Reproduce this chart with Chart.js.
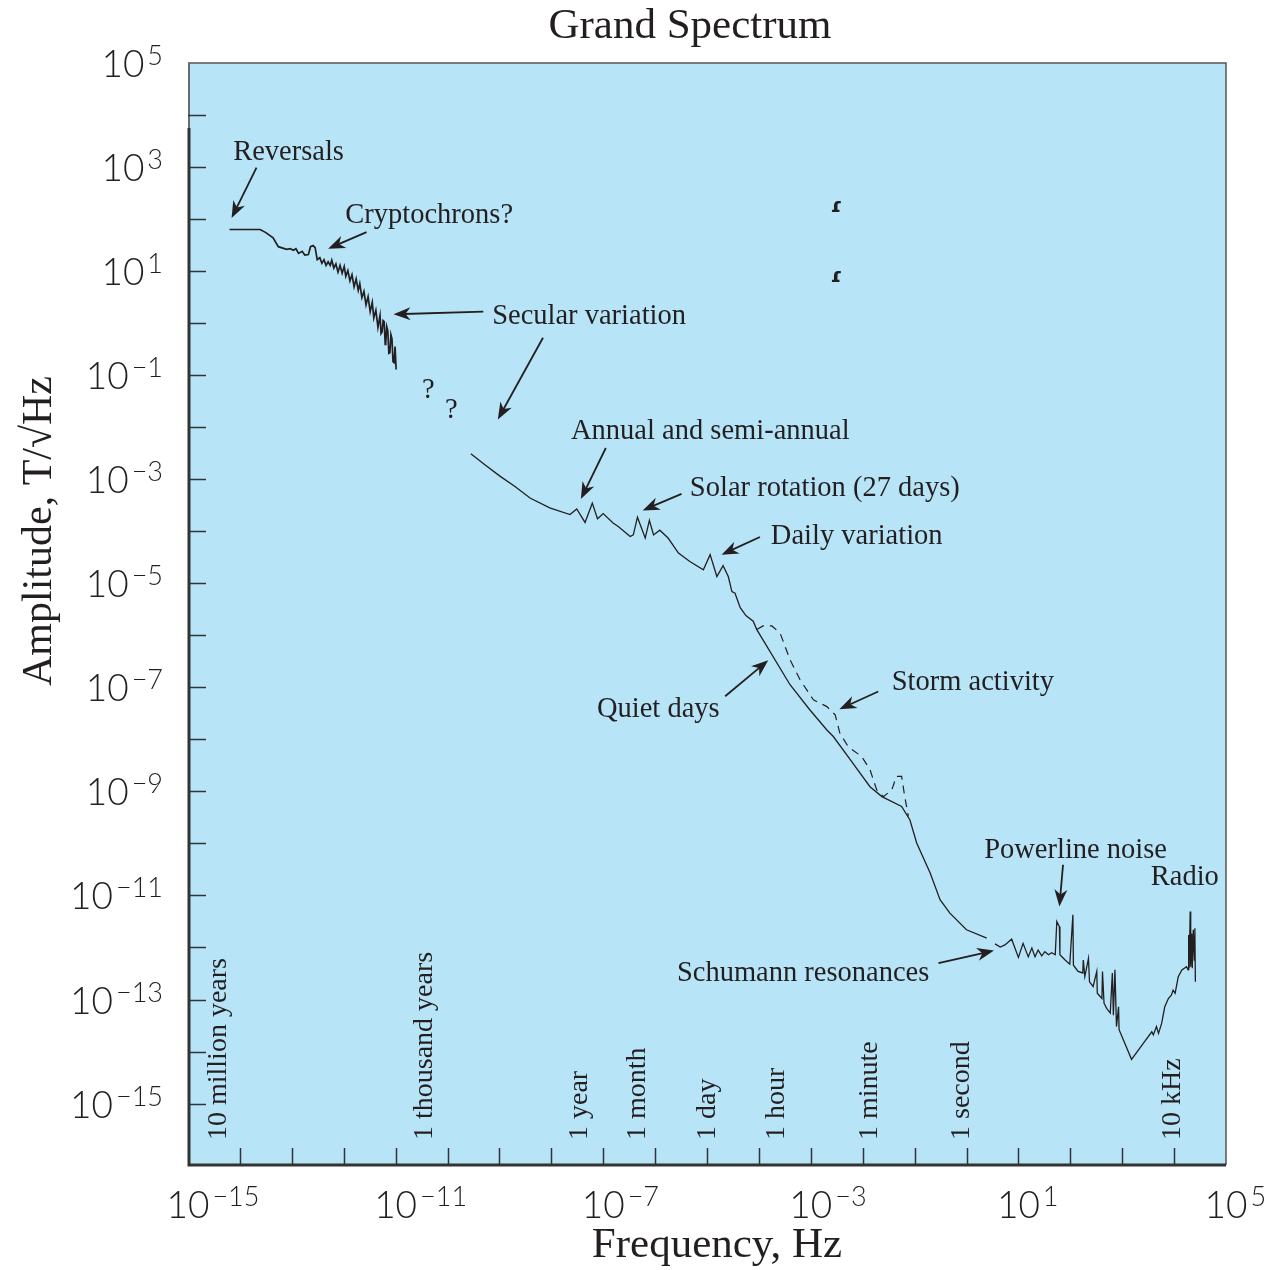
<!DOCTYPE html>
<html>
<head>
<meta charset="utf-8">
<script src="https://cdn.jsdelivr.net/npm/chart.js@4.4.0/dist/chart.umd.min.js"></script>
<style>
  html, body { margin: 0; padding: 0; background: #ffffff; }
  canvas { display: block; }
</style>
</head>
<body>
<canvas id="spectrumChart" width="1270" height="1270"></canvas>
<script>
// All series values are log10(frequency / Hz) and log10(amplitude / T/sqrt(Hz)).

// reversals, cryptochrons and secular variation
const secularFreq = [-14.20, -13.61, -13.50, -13.36, -13.26, -13.10, -13.03, -12.97, -12.92, -12.87, -12.80, -12.75, -12.68, -12.64, -12.59, -12.55, -12.51,
    -12.46, -12.42, -12.38, -12.34, -12.30, -12.26, -12.23, -12.19, -12.15, -12.11, -12.07, -12.03, -11.99, -11.96, -11.92, -11.88, -11.84, -11.80,
    -11.76, -11.72, -11.69, -11.65, -11.61, -11.57, -11.53, -11.49, -11.45, -11.42, -11.38, -11.34, -11.30, -11.28, -11.26, -11.24, -11.22, -11.20,
    -11.19, -11.17, -11.15, -11.13, -11.11, -11.09, -11.07, -11.05, -11.03, -11.01, -10.99];
const secularAmp = [1.80, 1.80, 1.74, 1.64, 1.47, 1.42, 1.43, 1.40, 1.43, 1.34, 1.38, 1.31, 1.32, 1.47, 1.49, 1.45, 1.22,
    1.26, 1.15, 1.22, 1.11, 1.18, 1.11, 1.21, 1.06, 1.14, 0.98, 1.11, 0.96, 1.09, 0.90, 1.01, 0.81, 0.93, 0.70,
    0.85, 0.63, 0.76, 0.49, 0.61, 0.35, 0.51, 0.22, 0.40, 0.10, 0.25, -0.08, 0.15, -0.20, -0.17, 0.05, 0.03, -0.41,
    -0.38, -0.07, -0.15, -0.58, -0.57, -0.22, -0.30, -0.74, -0.76, -0.45, -0.89];

// annual, solar rotation, daily variation, quiet days, down to 10 Hz
const quietFreq = [-9.55, -9.28, -8.99, -8.70, -8.41, -8.03, -7.64, -7.51, -7.35, -7.21, -7.11, -7.00, -6.81, -6.71, -6.48, -6.42, -6.34, -6.19,
    -6.11, -6.03, -5.91, -5.75, -5.55, -5.33, -5.07, -4.94, -4.81, -4.69, -4.59, -4.52, -4.46, -4.36, -4.25, -4.11, -4.04, -3.40, -3.02, -2.69,
    -2.57, -2.24, -1.86, -1.63, -1.25, -1.09, -0.96, -0.70, -0.51, -0.32, 0.00, 0.39];
const quietAmp = [-2.51, -2.72, -2.94, -3.14, -3.36, -3.55, -3.68, -3.57, -3.83, -3.46, -3.76, -3.66, -3.84, -3.91, -4.10, -4.07, -3.73, -4.13,
    -3.79, -4.07, -3.98, -4.13, -4.42, -4.58, -4.74, -4.45, -4.87, -4.66, -4.87, -5.16, -5.19, -5.47, -5.62, -5.73, -5.89, -6.95, -7.43, -7.82,
    -7.94, -8.39, -8.91, -9.10, -9.29, -9.55, -9.99, -10.57, -11.08, -11.34, -11.66, -11.82];

// storm activity (dashed)
const stormFreq = [-4.04, -3.92, -3.75, -3.59, -3.40, -3.21, -2.95, -2.69, -2.53, -2.44, -2.28, -2.02, -1.86, -1.73, -1.60, -1.44, -1.35, -1.25, -1.19, -1.12];
const stormAmp = [-5.89, -5.82, -5.82, -5.96, -6.47, -6.85, -7.24, -7.37, -7.53, -7.88, -8.14, -8.33, -8.58, -8.97, -9.10, -8.97, -8.71, -8.71, -9.10, -9.48];

// Schumann resonances, powerline noise, radio
const highFreq = [0.55, 0.65, 0.74, 0.87, 1.00, 1.09, 1.19, 1.26, 1.32, 1.38, 1.45, 1.51, 1.58, 1.64, 1.71, 1.74, 1.79, 1.80, 1.90, 1.99, 2.05,
    2.06, 2.15, 2.24, 2.25, 2.28, 2.35, 2.37, 2.44, 2.51, 2.52, 2.61, 2.62, 2.65, 2.70, 2.77, 2.81, 2.83, 2.86, 2.89, 2.93, 2.94, 3.18, 3.41,
    3.57, 3.60, 3.66, 3.70, 3.76, 3.82, 3.89, 3.95, 3.98, 4.02, 4.08, 4.15, 4.24, 4.27, 4.28, 4.29, 4.31, 4.32, 4.34, 4.35, 4.37, 4.39, 4.40, 4.41];
const highAmp = [-11.93, -11.99, -11.95, -11.84, -12.19, -11.92, -12.18, -12.01, -12.18, -12.05, -12.16, -12.08, -12.14, -12.10, -12.14, -11.50,
    -11.60, -12.14, -12.24, -12.32, -11.37, -12.34, -12.46, -12.49, -12.24, -12.56, -12.21, -12.66, -12.75, -12.46, -12.88, -12.98, -12.46, -13.07,
    -13.17, -13.26, -12.49, -13.30, -12.43, -13.52, -13.14, -13.58, -14.15, -13.84, -13.62, -13.68, -13.52, -13.65, -13.46, -13.14, -12.98, -12.91,
    -12.82, -12.88, -12.56, -12.43, -12.37, -12.43, -11.76, -12.40, -11.31, -12.37, -11.73, -12.40, -11.66, -12.24, -11.63, -12.66];

// labelled tick exponents
const xTickExps = [-15, -11, -7, -3, 1, 5];
const yTickExps = [5, 3, 1, -1, -3, -5, -7, -9, -11, -13, -15];

// period labels along the bottom
const periodLabels = ['10 million years', '1 thousand years', '1 year', '1 month', '1 day', '1 hour', '1 minute', '1 second', '10 kHz'];
const periodFreq = [-14.40, -10.45, -7.45, -6.33, -4.98, -3.65, -1.86, -0.09, 3.98];

const INK = '#231f20';
const SERIF = '"Liberation Serif", "Times New Roman", serif';
const SANS = 'Lato, "Liberation Sans", sans-serif';

// text callouts, in the same log10 coordinates as the data
const notes = [
    { text: 'Reversals', at: [-14.13, 3.34], arrows: [[[-13.68, 2.99], [-14.16, 2.02]]] },
    { text: 'Cryptochrons?', at: [-11.97, 2.13], arrows: [[[-11.56, 1.75], [-12.30, 1.43]]] },
    { text: 'Secular variation', at: [-9.14, 0.18], arrows: [[[-9.31, 0.22], [-11.04, 0.17]], [[-8.16, -0.28], [-9.03, -1.85]]] },
    { text: '?', at: [-10.49, -1.24], arrows: [] },
    { text: '?', at: [-10.05, -1.62], arrows: [] },
    { text: 'Annual and semi-annual', at: [-7.62, -2.03], arrows: [[[-6.95, -2.40], [-7.43, -3.38]]] },
    { text: 'Solar rotation (27 days)', at: [-5.33, -3.12], arrows: [[[-5.49, -3.28], [-6.24, -3.60]]] },
    { text: 'Daily variation', at: [-3.77, -4.05], arrows: [[[-3.98, -4.11], [-4.72, -4.45]]] },
    { text: 'Quiet days', at: [-7.12, -7.37], arrows: [[[-4.65, -7.17], [-3.82, -6.48]]] },
    { text: 'Storm activity', at: [-1.44, -6.85], arrows: [[[-1.70, -7.08], [-2.45, -7.42]]] },
    { text: 'Powerline noise', at: [0.34, -10.07], arrows: [[[1.86, -10.41], [1.79, -11.21]]] },
    { text: 'Radio', at: [3.55, -10.60], arrows: [] },
    { text: 'Schumann resonances', at: [-5.58, -12.45], arrows: [[[-0.54, -12.30], [0.53, -12.06]]] }
];

const toPoints = (freqs, amps) => freqs.map((f, i) => ({ x: Math.pow(10, f), y: Math.pow(10, amps[i]) }));

function drawPower(ctx, exp, x, y, align) {
    const base = '10';
    const sup = String(exp).replace('-', '\u2212');
    ctx.font = `300 37px ${SANS}`;
    const bw = ctx.measureText(base).width;
    ctx.font = `300 27px ${SANS}`;
    const sw = ctx.measureText(sup).width;
    const bx = align === 'right' ? x - bw - 3 - sw : x - bw / 2;
    ctx.textAlign = 'left';
    ctx.textBaseline = 'alphabetic';
    ctx.font = `300 37px ${SANS}`;
    ctx.fillText(base, bx, y);
    ctx.font = `300 27px ${SANS}`;
    ctx.fillText(sup, bx + bw + 3, y - 12);
}

function drawArrow(ctx, x1, y1, x2, y2) {
    const ang = Math.atan2(y2 - y1, x2 - x1);
    const len = 17, half = 6.5;
    ctx.beginPath();
    ctx.moveTo(x1, y1);
    ctx.lineTo(x2 - Math.cos(ang) * len * 0.6, y2 - Math.sin(ang) * len * 0.6);
    ctx.stroke();
    ctx.save();
    ctx.translate(x2, y2);
    ctx.rotate(ang);
    ctx.beginPath();
    ctx.moveTo(0, 0);
    ctx.lineTo(-len, -half);
    ctx.lineTo(-len * 0.7, 0);
    ctx.lineTo(-len, half);
    ctx.closePath();
    ctx.fill();
    ctx.restore();
}

const framePlugin = {
    id: 'frame',
    beforeDatasetsDraw(chart) {
        const { ctx, chartArea: a } = chart;
        ctx.save();
        ctx.fillStyle = '#b8e4f8';
        ctx.fillRect(a.left, a.top, a.right - a.left, a.bottom - a.top);
        ctx.restore();
    },
    afterDatasetsDraw(chart) {
        const { ctx, chartArea: a } = chart;
        const xs = chart.scales.x;
        const ys = chart.scales.y;
        const px = lf => xs.getPixelForValue(Math.pow(10, lf));
        const py = la => ys.getPixelForValue(Math.pow(10, la));
        ctx.save();

        // frame
        ctx.strokeStyle = '#555';
        ctx.lineWidth = 1.5;
        ctx.beginPath();
        ctx.moveTo(a.left, a.top);
        ctx.lineTo(a.right, a.top);
        ctx.lineTo(a.right, a.bottom);
        ctx.stroke();
        ctx.strokeStyle = '#6b6b6b';
        ctx.lineWidth = 2;
        ctx.beginPath();
        ctx.moveTo(a.left + 1, a.top);
        ctx.lineTo(a.left + 1, a.top + 65);
        ctx.stroke();
        ctx.strokeStyle = '#333';
        ctx.lineWidth = 3;
        ctx.beginPath();
        ctx.moveTo(a.left + 1, a.top + 65);
        ctx.lineTo(a.left + 1, a.bottom);
        ctx.lineTo(a.right, a.bottom);
        ctx.stroke();

        // inward ticks every decade
        ctx.strokeStyle = '#333';
        ctx.lineWidth = 1.5;
        ctx.beginPath();
        for (let d = -14; d <= 4; d++) {
            const x = Math.round(px(d)) + 0.5;
            ctx.moveTo(x, a.bottom);
            ctx.lineTo(x, a.bottom - 17);
        }
        for (let d = -15; d <= 4; d++) {
            const y = Math.round(py(d)) + 0.5;
            ctx.moveTo(a.left, y);
            ctx.lineTo(a.left + 18, y);
        }
        ctx.stroke();

        // tick labels
        ctx.fillStyle = INK;
        xTickExps.forEach(e => drawPower(ctx, e, px(e), a.bottom + 53, 'center'));
        yTickExps.forEach(e => drawPower(ctx, e, a.left - 25, py(e) + 14, 'right'));

        // axis titles and chart title
        ctx.font = `43px ${SERIF}`;
        ctx.textAlign = 'center';
        ctx.textBaseline = 'alphabetic';
        ctx.fillText('Frequency, Hz', 717, a.bottom + 92);
        ctx.font = `43px ${SERIF}`;
        ctx.fillText('Grand Spectrum', 690, 38);
        ctx.save();
        ctx.translate(51, 531);
        ctx.rotate(-Math.PI / 2);
        ctx.font = `42px ${SERIF}`;
        ctx.fillText('Amplitude, T/\u221AHz', 0, 0);
        ctx.restore();

        // period labels, rotated
        ctx.font = `28px ${SERIF}`;
        ctx.textAlign = 'left';
        ctx.textBaseline = 'middle';
        periodLabels.forEach((t, i) => {
            ctx.save();
            ctx.translate(px(periodFreq[i]), a.bottom - 25);
            ctx.rotate(-Math.PI / 2);
            ctx.fillText(t, 0, 0);
            ctx.restore();
        });

        // callouts
        ctx.strokeStyle = INK;
        ctx.lineWidth = 1.8;
        notes.forEach(n => {
            ctx.font = `28.5px ${SERIF}`;
            ctx.textAlign = 'left';
            ctx.textBaseline = 'middle';
            ctx.fillText(n.text, px(n.at[0]), py(n.at[1]) + 3);
            n.arrows.forEach(([from, to]) => drawArrow(ctx, px(from[0]), py(from[1]), px(to[0]), py(to[1])));
        });

        // two stray hook marks in the figure
        ctx.font = `bold 20px "DejaVu Sans", sans-serif`;
        ctx.textAlign = 'center';
        ctx.fillText('\u027E', px(-2.51), py(2.24));
        ctx.fillText('\u027E', px(-2.51), py(0.90));

        ctx.restore();
    }
};

const lineStyle = {
    showLine: true,
    borderColor: INK,
    borderWidth: 1.3,
    pointRadius: 0,
    fill: false,
    tension: 0
};

new Chart(document.getElementById('spectrumChart').getContext('2d'), {
    type: 'scatter',
    data: {
        datasets: [
            { ...lineStyle, label: 'Secular', data: toPoints(secularFreq, secularAmp), borderWidth: 1.7 },
            { ...lineStyle, label: 'Quiet days', data: toPoints(quietFreq, quietAmp) },
            { ...lineStyle, label: 'Storm activity', data: toPoints(stormFreq, stormAmp), borderDash: [8, 6], borderWidth: 1.2 },
            { ...lineStyle, label: 'High frequency', data: toPoints(highFreq, highAmp) }
        ]
    },
    options: {
        responsive: false,
        animation: false,
        devicePixelRatio: 1,
        layout: {
            padding: { left: 188, top: 63, right: 44, bottom: 105 }
        },
        plugins: {
            legend: { display: false },
            tooltip: { enabled: false },
            title: { display: false }
        },
        scales: {
            x: {
                type: 'logarithmic',
                display: false,
                min: 1e-15,
                max: 1e5
            },
            y: {
                type: 'logarithmic',
                display: false,
                min: 6.6e-17,
                max: 1e5
            }
        }
    },
    plugins: [framePlugin]
});
</script>
</body>
</html>
